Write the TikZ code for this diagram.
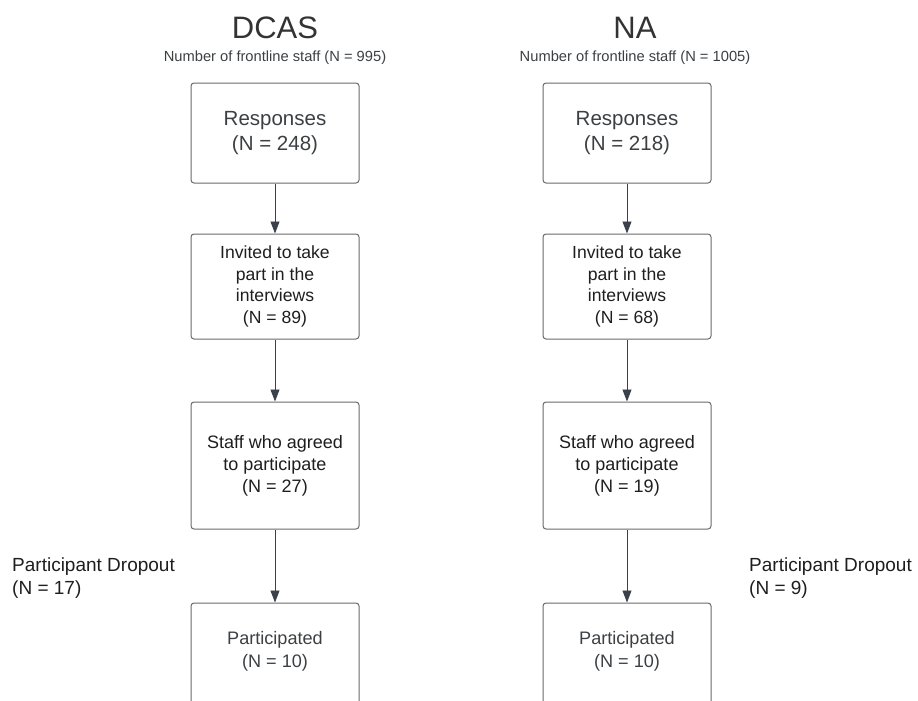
\documentclass[tikz,border=0pt]{standalone}
\usepackage{fontspec}
\setmainfont{Liberation Sans}
\usetikzlibrary{arrows.meta}
\definecolor{boxline}{HTML}{6A6A6A}
\definecolor{arrowc}{HTML}{3A414A}
\definecolor{titlec}{HTML}{333333}
\definecolor{bodyc}{HTML}{1E1E1E}
\definecolor{softc}{HTML}{3C4043}
\tikzset{
  stagebox/.style={draw=boxline, line width=1pt, rounded corners=3pt,
    minimum width=168pt, align=center, inner sep=0pt},
  flow/.style={draw=arrowc, line width=0.9pt,
    -{Triangle[width=9pt,length=12pt]}},
  heading/.style={text=titlec, font=\fontsize{31}{34}\selectfont, inner sep=0pt},
  subheading/.style={text=softc, font=\fontsize{14.7}{17}\selectfont, inner sep=0pt},
  dropout/.style={text=bodyc, font=\fontsize{19}{23}\selectfont, align=left,
    inner sep=0pt, anchor=west}
}
\begin{document}
\begin{tikzpicture}[x=1pt,y=-1pt]
\useasboundingbox (0,0) rectangle (918,701);

% ---- DCAS column ----
\node[heading] (tA) at (275,28) {DCAS};
\node[subheading] (sA) at (275,58) {Number of frontline staff (N = 995)};
\node[stagebox, minimum height=100pt, text=softc,
      font=\fontsize{20.5}{25}\selectfont] (rA) at (275,133) {Responses\\(N = 248)};
\node[stagebox, minimum height=105pt, text=bodyc,
      font=\fontsize{17.6}{21.5}\selectfont] (iA) at (275,286.5)
  {Invited to take\\part in the\\interviews\\(N = 89)};
\node[stagebox, minimum height=127pt, text=bodyc,
      font=\fontsize{18}{22}\selectfont] (aA) at (275,465.5)
  {Staff who agreed\\to participate\\(N = 27)};
\node[stagebox, minimum height=124pt] (pA) at (275,665) {};
\node[text=softc, font=\fontsize{18.1}{23}\selectfont, align=center] (ptA) at (275,651.5)
  {Participated\\(N = 10)};
\node[dropout] (dA) at (12,578.5) {Participant Dropout\\(N = 17)};

\draw[flow] (rA) -- (iA);
\draw[flow] (iA) -- (aA);
\draw[flow] (aA) -- (pA);

% ---- NA column ----
\node[heading] (tB) at (635,28) {NA};
\node[subheading] (sB) at (635,58) {Number of frontline staff (N = 1005)};
\node[stagebox, minimum height=100pt, text=softc,
      font=\fontsize{20.5}{25}\selectfont] (rB) at (627,133) {Responses\\(N = 218)};
\node[stagebox, minimum height=105pt, text=bodyc,
      font=\fontsize{17.6}{21.5}\selectfont] (iB) at (627,286.5)
  {Invited to take\\part in the\\interviews\\(N = 68)};
\node[stagebox, minimum height=127pt, text=bodyc,
      font=\fontsize{18}{22}\selectfont] (aB) at (627,465.5)
  {Staff who agreed\\to participate\\(N = 19)};
\node[stagebox, minimum height=124pt] (pB) at (627,665) {};
\node[text=softc, font=\fontsize{18.1}{23}\selectfont, align=center] (ptB) at (627,651.5)
  {Participated\\(N = 10)};
\node[dropout] (dB) at (749,578.5) {Participant Dropout\\(N = 9)};

\draw[flow] (rB) -- (iB);
\draw[flow] (iB) -- (aB);
\draw[flow] (aB) -- (pB);
\end{tikzpicture}
\end{document}
